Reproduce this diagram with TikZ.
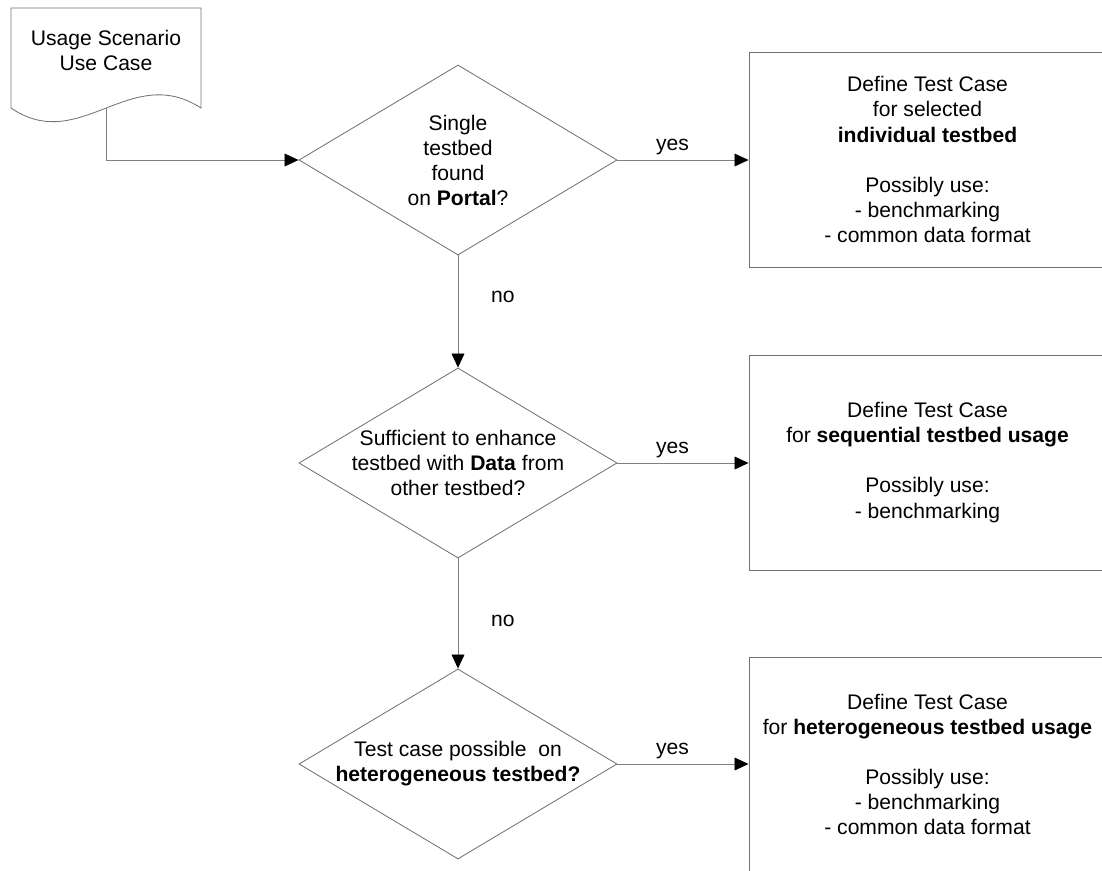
\documentclass[tikz,border=0pt]{standalone}
\usepackage{fontspec}
\setmainfont{Liberation Sans}
\usepackage{tikz}
\usetikzlibrary{shapes.geometric, arrows.meta, positioning}

\tikzset{
    txt/.style={font=\fontsize{15}{17.8}\selectfont, align=center},
    decision/.style={diamond, draw=black!55, line width=0.6pt, inner sep=0pt,
        minimum width=7.95cm, minimum height=4.75cm},
    testcase/.style={rectangle, draw=black!55, line width=0.6pt, txt,
        minimum width=8.925cm, minimum height=5.375cm},
    flow/.style={draw=black!50, line width=0.6pt,
        -{Triangle[length=0.35cm, width=0.32cm, black]}}
}

\begin{document}
\begin{tikzpicture}[x=0.025cm, y=-0.025cm]
    % 1. Khung hình và cắt mép phải/dưới
    \useasboundingbox (0,0) rectangle (1102,870);
    \clip (0,0) rectangle (1102,870);

    % 2. Tài liệu đầu vào
    \draw[draw=black!55, line width=0.6pt] (11,108) -- (11,8) -- (201,8) -- (201,108)
        .. controls (130,62) and (80,155) .. (11,108) -- cycle;
    \node[txt] (usage) at (106,50) {Usage Scenario\\Use Case};
    \coordinate (usageout) at (106,108);

    % 3. Các ô quyết định
    \node[decision] (single) at (458,160) {};
    \node[txt] (singletext) at (single) {Single\\testbed\\found\\on \textbf{Portal}?};
    \node[decision] (data) at (458,463) {};
    \node[txt] (datatext) at (data) {Sufficient to enhance\\testbed with \textbf{Data} from\\other testbed?};
    \node[decision] (hetero) at (458,764) {};
    \node[txt] (heterotext) at (hetero) {Test case possible\ \ on\\\textbf{heterogeneous testbed?}};

    % 4. Các hộp định nghĩa test case
    \node[testcase] (individual) at (927.5,159.5) {Define Test Case\\for selected\\\textbf{individual testbed}\\[17.8pt]Possibly use:\\- benchmarking\\- common data format};
    \node[testcase] (sequential) at (927.5,462.5) {Define Test Case\\for \textbf{sequential testbed usage}\\[17.8pt]Possibly use:\\- benchmarking};
    \node[testcase] (heterobox) at (927.5,764.5) {Define Test Case\\for \textbf{heterogeneous testbed usage}\\[17.8pt]Possibly use:\\- benchmarking\\- common data format};

    % 5. Mũi tên
    \draw[flow] (usageout) |- (single.west);
    \draw[flow] (single.east) -- (single.east -| individual.west)
        node[txt, pos=0.42, above] {yes};
    \draw[flow] (data.east) -- (data.east -| sequential.west)
        node[txt, pos=0.42, above] {yes};
    \draw[flow] (hetero.east) -- (hetero.east -| heterobox.west)
        node[txt, pos=0.42, above] {yes};
    \draw[flow] (single.south) -- (data.north)
        node[txt, pos=0.37, right=0.7cm] {no};
    \draw[flow] (data.south) -- (hetero.north)
        node[txt, pos=0.57, right=0.7cm] {no};
\end{tikzpicture}
\end{document}
